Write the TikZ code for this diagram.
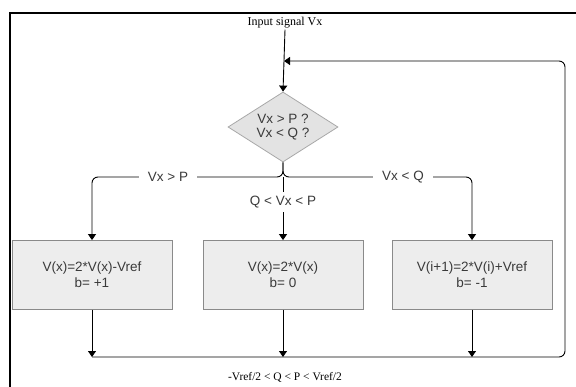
\documentclass[tikz,border=0pt]{standalone}
\usepackage{fontspec}
\setmainfont{Liberation Serif}
\setsansfont{Liberation Sans}
\usetikzlibrary{arrows.meta,shapes.geometric}
\definecolor{txtgray}{HTML}{3A3A3A}
\definecolor{boxfill}{HTML}{EDEDED}
\definecolor{boxline}{HTML}{8A8A8A}
\definecolor{diafill}{HTML}{E3E3E3}
\definecolor{dialine}{HTML}{A8A8A8}
\tikzset{
  procbox/.style={draw=boxline, fill=boxfill, line width=0.8pt, minimum width=160pt, minimum height=69pt,
    inner sep=0pt, align=center, text=txtgray, font=\sffamily\fontsize{13.5}{16}\selectfont},
  decision/.style={diamond, draw=dialine, fill=diafill, line width=0.8pt, minimum width=110pt, minimum height=70pt,
    inner sep=0pt, aspect=1.57, align=center, text=txtgray, font=\sffamily\fontsize{13.5}{14}\selectfont},
  lbl/.style={fill=white, inner xsep=9pt, inner ysep=4pt, text=txtgray, font=\sffamily\fontsize{13.5}{16}\selectfont},
  serif/.style={inner sep=1pt, font=\rmfamily\fontsize{12}{14}\selectfont},
  conn/.style={line width=0.9pt, -{Triangle[width=8pt,length=6pt]}},
  plain/.style={line width=0.9pt},
}
\begin{document}
\begin{tikzpicture}[x=1pt,y=-1pt]
\useasboundingbox (0,0) rectangle (576,386);
% frame
\draw[line width=2.6pt] (10,387) -- (10,13) -- (577,13);
% nodes
\node[serif] (inp) at (285,23) {Input signal Vx};
\node[decision] (dia) at (283,127) {Vx > P ?\\Vx < Q ?};
\node[procbox] (lbox) at (92,275) {V(x)=2*V(x)-Vref\\b= +1};
\node[procbox] (mbox) at (283,275) {V(x)=2*V(x)\\b= 0};
\node[procbox] (rbox) at (472,275) {V(i+1)=2*V(i)+Vref\\b= -1};
\node[serif, font=\rmfamily\fontsize{11.5}{14}\selectfont] (cond) at (285,377) {-Vref/2 < Q < P < Vref/2};
\coordinate (split) at (283,177);
\coordinate (lb) at (92,357);
\coordinate (mb) at (283,357);
\coordinate (rb) at (472,357);
\coordinate (fbin) at (284,61);
% input arrow
\draw[conn] (inp.south) -- (dia.north);
% branches
\draw[conn, rounded corners=6pt] (dia.south) -- (split) -| (lbox.north);
\draw[conn, rounded corners=6pt] (dia.south) -- (split) -| (rbox.north);
\node[lbl] (lgt) at (168,177) {Vx > P};
\node[lbl] (llt) at (403,177) {Vx < Q};
\node[lbl] (lmid) at (283,202) {Q < Vx < P};
\draw[plain] (split) -- (lmid.north);
\draw[conn] (lmid.south) -- (mbox.north);
% outputs
\draw[conn] (lbox.south) -- (lb);
\draw[conn] (mbox.south) -- (mb);
\draw[conn] (rbox.south) -- (rb);
% feedback
\draw[conn, rounded corners=6pt] (lb) -- (565,357) -- (565,61) -- (fbin);
\end{tikzpicture}
\end{document}
